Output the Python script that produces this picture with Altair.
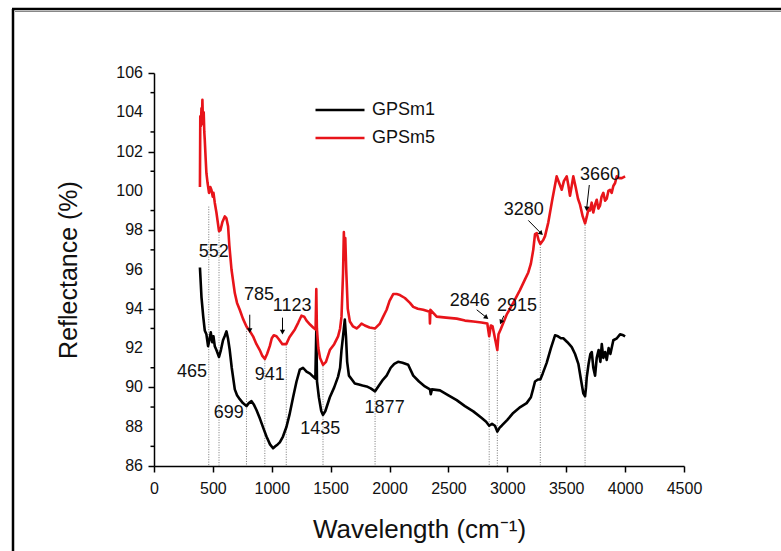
import altair as alt
import pandas as pd

# ---- data ----
gpsm1_wn = [390, 403, 418, 431, 445, 459, 470, 482, 495, 505, 516, 530, 552, 568, 586, 600, 615, 628, 643, 660,
            686, 705, 728, 755, 785, 805, 828, 850, 870, 900, 930, 955, 985, 1011, 1030, 1050, 1068, 1095, 1125, 1150,
            1181, 1210, 1238, 1265, 1295, 1325, 1351, 1370, 1378, 1384, 1400, 1420, 1435, 1455, 1493, 1530, 1563, 1580,
            1592, 1605, 1620, 1630, 1640, 1655, 1680, 1705, 1740, 1770, 1805, 1840, 1877, 1910, 1945, 1975, 2010, 2040,
            2072, 2110, 2158, 2201, 2250, 2300, 2343, 2350, 2360, 2428, 2500, 2570, 2640, 2711, 2780, 2820, 2846, 2870,
            2895, 2915, 2935, 2952, 3000, 3050, 3110, 3164, 3200, 3218, 3235, 3260, 3280, 3300, 3334, 3370, 3405, 3430,
            3455, 3475, 3510, 3547, 3575, 3603, 3625, 3645, 3660, 3668, 3674, 3690, 3705, 3717, 3730, 3745, 3759, 3775,
            3790, 3802, 3815, 3830, 3844, 3860, 3875, 3900, 3930, 3957, 3985, 4000]
gpsm1_val = [96.1, 94.6, 93.6, 92.9, 92.7, 92.1, 92.4, 92.8, 92.3, 92.6, 92.1, 91.9, 91.55, 91.9, 92.4, 92.6, 92.85, 92.5, 91.9, 91.0,
             89.9, 89.6, 89.4, 89.2, 89.05, 89.2, 89.3, 89.1, 88.85, 88.4, 87.9, 87.5, 87.1, 86.9, 87.0, 87.1, 87.2, 87.5, 88.0, 88.6,
             89.5, 90.3, 90.9, 91.0, 90.8, 90.7, 90.55, 90.45, 92.9, 90.3, 89.5, 88.8, 88.6, 88.8, 89.5, 90.0, 90.55, 91.0,
             91.9, 92.6, 93.45, 92.6, 91.3, 90.6, 90.4, 90.2, 90.15, 90.1, 90.05, 89.95, 89.8, 90.1, 90.4, 90.6, 91.0, 91.2,
             91.3, 91.25, 91.15, 90.6, 90.3, 90.05, 89.9, 89.65, 89.9, 89.85, 89.6, 89.35, 89.05, 88.78, 88.45, 88.25, 88.05, 88.15,
             88.05, 87.75, 87.95, 88.05, 88.35, 88.7, 89.0, 89.2, 89.5, 89.9, 90.3, 90.4, 90.4, 90.7, 91.25, 92.0, 92.65, 92.6,
             92.5, 92.5, 92.3, 92.05, 91.7, 91.2, 90.4, 89.7, 89.55, 90.0, 90.5, 91.2, 91.7, 91.8, 91.0, 90.6, 91.5, 91.9,
             91.3, 92.2, 91.5, 91.8, 91.4, 92.0, 91.7, 92.4, 92.5, 92.7, 92.65, 92.6]

gpsm5_wn = [390, 393, 398, 403, 408, 411, 416, 422, 427, 431, 439, 445, 455, 467, 478, 488, 499, 505, 516, 530,
            552, 564, 580, 601, 615, 629, 640, 658, 686, 705, 728, 755, 785, 810, 841, 870, 898, 920, 941, 960,
            983, 1000, 1017, 1040, 1060, 1090, 1123, 1150, 1196, 1225, 1252, 1275, 1295, 1325, 1351, 1372, 1378, 1383,
            1395, 1410, 1435, 1460, 1493, 1530, 1563, 1580, 1592, 1605, 1612, 1618, 1624, 1632, 1645, 1663, 1690, 1720,
            1740, 1762, 1790, 1830, 1877, 1918, 1946, 1975, 2000, 2031, 2060, 2088, 2130, 2173, 2201, 2240, 2286, 2340,
            2343, 2347, 2400, 2480, 2570, 2640, 2711, 2780, 2830, 2846, 2860, 2875, 2915, 2925, 2943, 2994, 3050, 3107,
            3150, 3178, 3200, 3220, 3235, 3250, 3265, 3280, 3305, 3320, 3348, 3380, 3419, 3440, 3462, 3480, 3504, 3518,
            3532, 3545, 3560, 3580, 3600, 3617, 3640, 3660, 3675, 3690, 3702, 3716, 3730, 3745, 3759, 3773, 3787, 3800,
            3815, 3830, 3844, 3858, 3872, 3886, 3900, 3915, 3929, 3950, 3972, 4000]
gpsm5_val = [100.2, 103.8, 103.3, 104.2, 103.9, 104.64, 103.4, 104.0, 103.0, 102.6, 101.6, 100.9, 100.4, 99.9, 100.2, 100.05, 99.7, 99.9, 99.4, 98.9,
             97.95, 98.0, 98.4, 98.7, 98.6, 98.2, 97.2, 96.0, 94.8, 94.3, 93.95, 93.5, 93.1, 92.9, 92.6, 92.2, 91.9, 91.6, 91.45, 91.7,
             92.1, 92.5, 92.65, 92.6, 92.45, 92.2, 92.2, 92.55, 92.95, 93.3, 93.65, 93.6, 93.4, 93.2, 93.05, 92.95, 95.0, 93.0,
             92.0, 91.5, 91.15, 91.3, 91.9, 92.2, 92.6, 93.0, 93.6, 95.8, 97.9, 96.5, 97.6, 96.0, 94.0, 93.35, 93.1, 93.0,
             93.1, 93.25, 93.15, 93.05, 93.0, 93.25, 93.6, 93.95, 94.4, 94.75, 94.75, 94.7, 94.55, 94.3, 94.1, 94.0, 93.95, 93.85,
             93.25, 93.95, 93.6, 93.55, 93.5, 93.4, 93.35, 93.3, 93.25, 92.6, 93.15, 93.1, 91.9, 92.7, 92.95, 93.7, 94.3, 94.95,
             95.5, 95.85, 96.3, 97.0, 97.8, 97.85, 97.5, 97.3, 97.5, 97.7, 98.4, 99.5, 100.74, 100.4, 100.06, 100.5, 100.74, 100.3,
             99.75, 100.2, 100.74, 100.2, 99.6, 99.3, 98.7, 98.35, 98.7, 99.1, 99.0, 99.4, 98.9, 99.3, 99.55, 99.1, 99.25, 99.7,
             99.9, 99.5, 99.6, 100.0, 100.05, 99.9, 100.25, 100.4, 100.74, 100.65, 100.65, 100.74]

series_names = ["GPSm1", "GPSm5"]
series_colors = ["#000000", "#e8141a"]

# dotted marker lines (band positions and the value where each line starts)
peak_wn = [465, 552, 785, 941, 1123, 1435, 1877, 2846, 2915, 3280, 3660]
peak_top = [99.2, 97.9, 93.0, 91.5, 92.2, 91.2, 93.0, 92.6, 91.9, 97.4, 98.4]

# annotation labels
label_text = ["465", "552", "699", "785", "941", "1123", "1435", "1877", "2846", "2915", "3280", "3660"]
label_wn = [322, 507, 635, 892, 983, 1173, 1411, 1958, 2680, 3082, 3139, 3787]
label_val = [90.8, 96.87, 88.7, 94.72, 90.65, 94.12, 87.86, 88.95, 94.38, 94.16, 99.03, 100.82]

# small arrows (tail -> head)
arrow_wn = [813, 1091, 2740, 2971, 3178, 3696]
arrow_val = [93.7, 93.55, 93.95, 93.65, 98.5, 100.3]
arrow_wn2 = [813, 1091, 2818, 2949, 3283, 3674]
arrow_val2 = [92.93, 92.85, 93.58, 93.36, 97.86, 99.13]
arrow_angle = [180, 180, 128, 204, 135, 186]

y_major = list(range(86, 107, 2))
y_minor = list(range(87, 106, 2))
x_ticks = list(range(0, 4501, 250))

FONT = "Liberation Sans"

# ---- tables ----
lines_df = pd.concat([
    pd.DataFrame({"wn": gpsm1_wn, "val": gpsm1_val, "series": series_names[0]}),
    pd.DataFrame({"wn": gpsm5_wn, "val": gpsm5_val, "series": series_names[1]}),
], ignore_index=True)
peaks_df = pd.DataFrame({"wn": peak_wn, "top": peak_top, "bottom": [86] * len(peak_wn)})
labels_df = pd.DataFrame({"wn": label_wn, "val": label_val, "text": label_text})
arrows_df = pd.DataFrame({"wn": arrow_wn, "val": arrow_val, "wn2": arrow_wn2, "val2": arrow_val2,
                          "angle": arrow_angle})
minor_df = pd.DataFrame({"val": y_minor})
major_df = pd.DataFrame({"val": y_major, "text": [str(v) for v in y_major]})

x_scale = alt.Scale(domain=[0, 4500], nice=False, zero=False)
y_scale = alt.Scale(domain=[86, 106], nice=False, zero=False)

x_axis = alt.Axis(
    title="Wavelength (cm⁻¹)", values=x_ticks,
    labelExpr="datum.value % 500 == 0 ? format(datum.value, 'd') : ''",
    labelOverlap=False, labelFlush=False, grid=False,
    tickSize={"condition": {"test": "datum.value % 500 == 0", "value": 6}, "value": 3},
    tickColor="black", tickWidth=1.5, domainColor="black", domainWidth=1.5,
    labelFont=FONT, labelFontSize=16, labelColor="#111", labelPadding=8,
    titleFont=FONT, titleFontSize=26, titleFontWeight="normal", titleColor="#111", titlePadding=20,
)
y_axis = alt.Axis(
    title="Reflectance (%)", values=y_major, labels=False, grid=False,
    tickSize=6, tickColor="black", tickWidth=1.5, domainColor="black", domainWidth=1.5,
    titleFont=FONT, titleFontSize=25, titleFontWeight="normal", titleColor="#111", titlePadding=66,
)

peaks = alt.Chart(peaks_df).mark_rule(color="#777", strokeWidth=1, strokeDash=[1, 1.5]).encode(
    x=alt.X("wn:Q", scale=x_scale, axis=x_axis),
    y=alt.Y("top:Q", scale=y_scale, axis=y_axis),
    y2="bottom:Q",
)

# minor ticks and tick labels of the y axis, placed through the y scale
minor = alt.Chart(minor_df).mark_rule(color="black", strokeWidth=1.5).encode(
    y=alt.Y("val:Q", scale=y_scale),
    x=alt.value(-3.5), x2=alt.value(0),
)
ylabels = alt.Chart(major_df).mark_text(font=FONT, fontSize=16, color="#111", align="right",
                                         baseline="middle", dx=-11).encode(
    y=alt.Y("val:Q", scale=y_scale), x=alt.value(0), text="text:N",
)

lines = alt.Chart(lines_df).mark_line(strokeWidth=2.6, strokeJoin="round").encode(
    x=alt.X("wn:Q", scale=x_scale),
    y=alt.Y("val:Q", scale=y_scale),
    color=alt.Color("series:N", scale=alt.Scale(domain=series_names, range=series_colors),
                    legend=alt.Legend(title=None, orient="none", legendX=160, legendY=27,
                                      symbolType="stroke", symbolSize=2401, symbolStrokeWidth=2.6,
                                      labelFont=FONT, labelFontSize=18, labelColor="#111",
                                      clipHeight=20, rowPadding=8, labelOffset=6)),
    order="wn:Q",
)

shafts = alt.Chart(arrows_df).mark_rule(color="black", strokeWidth=1).encode(
    x=alt.X("wn:Q", scale=x_scale), y=alt.Y("val:Q", scale=y_scale),
    x2="wn2:Q", y2="val2:Q",
)
heads = alt.Chart(arrows_df).mark_point(shape="triangle", filled=True, color="black", size=28, opacity=1).encode(
    x=alt.X("wn2:Q", scale=x_scale), y=alt.Y("val2:Q", scale=y_scale),
    angle=alt.Angle("angle:Q", scale=None),
)

labels = alt.Chart(labels_df).mark_text(font=FONT, fontSize=18, color="#111").encode(
    x=alt.X("wn:Q", scale=x_scale), y=alt.Y("val:Q", scale=y_scale), text="text:N",
)

frame_df = pd.DataFrame({"k": [0]})
frame_left = alt.Chart(frame_df).mark_rule(color="black", strokeWidth=2.5).encode(
    x=alt.value(-141), y=alt.value(-64), y2=alt.value(480))
frame_top = alt.Chart(frame_df).mark_rule(color="black", strokeWidth=2.5).encode(
    x=alt.value(-142), x2=alt.value(640), y=alt.value(-64))
frame_top2 = alt.Chart(frame_df).mark_rule(color="#888", strokeWidth=1).encode(
    x=alt.value(-139), x2=alt.value(640), y=alt.value(-61.5))

chart = alt.layer(
    peaks, minor, ylabels, lines, shafts, heads, labels, frame_left, frame_top, frame_top2
).properties(
    width=530, height=393,
    padding={"left": 154, "top": 73, "right": 97, "bottom": 85},
    autosize=alt.AutoSizeParams(type="none"),
    background="white",
).configure_view(stroke=None).configure_axis(labelOverlap=False)

chart.save("out.html", embed_options={"renderer": "svg", "actions": False})
